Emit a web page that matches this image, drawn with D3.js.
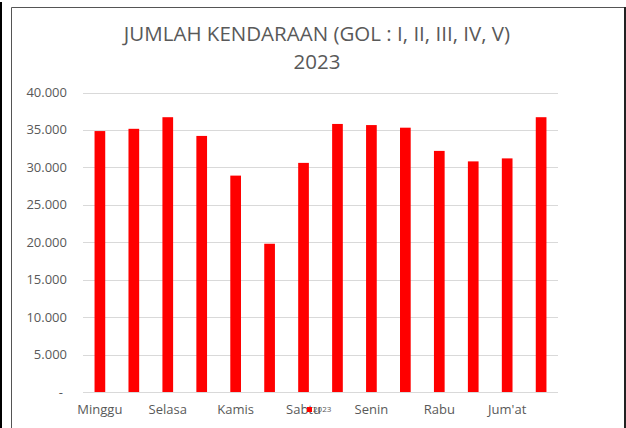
<!DOCTYPE html>
<html>
<head>
<meta charset="utf-8">
<script src="https://cdn.jsdelivr.net/npm/d3@7"></script>
<style>
  body { margin: 0; background: #fff; }
  svg { display: block; font-family: "Open Sans", sans-serif; }
</style>
</head>
<body>
<div class="canvas"></div>
<script>
// data
const days = ["Minggu", "Senin", "Selasa", "Rabu", "Kamis", "Jum'at", "Sabtu",
              "Minggu", "Senin", "Selasa", "Rabu", "Kamis", "Jum'at", "Sabtu"];
const values = [34850, 35150, 36700, 34200, 28900, 19800, 30600,
                35800, 35650, 35300, 32200, 30800, 31200, 36700];
const yTicks = [0, 5000, 10000, 15000, 20000, 25000, 30000, 35000, 40000];
const seriesName = "2023";

const width = 626, height = 428;
const svg = d3.select(".canvas").append("svg")
  .attr("width", width).attr("height", height);

// outer frame
svg.append("line").attr("x1", 1).attr("x2", 1).attr("y1", 2).attr("y2", height)
  .attr("stroke", "#000").attr("stroke-width", 2);
svg.append("path")
  .attr("d", `M11.5,${height} V7.5 H625`)
  .attr("fill", "none").attr("stroke", "#555").attr("stroke-width", 1);
svg.append("line").attr("x1", 625).attr("x2", 625).attr("y1", 7).attr("y2", height)
  .attr("stroke", "#222").attr("stroke-width", 2);

const plot = { left: 83, right: 558, top: 92.5, bottom: 392 };

const x = d3.scaleBand()
  .domain(d3.range(days.length))
  .range([plot.left, plot.right])
  .paddingInner(0.685)
  .paddingOuter(0.34);

const y = d3.scaleLinear().domain([0, 40000]).range([plot.bottom, plot.top]);

// gridlines
svg.append("g")
  .selectAll("line")
  .data(yTicks)
  .join("line")
  .attr("x1", plot.left).attr("x2", plot.right)
  .attr("y1", d => Math.round(y(d)) + 0.5).attr("y2", d => Math.round(y(d)) + 0.5)
  .attr("stroke", "#d9d9d9").attr("stroke-width", 1);

// y labels
const fmt = d => d === 0 ? "-" : d3.format(",")(d).replace(/,/g, ".");
svg.append("g")
  .selectAll("text")
  .data(yTicks)
  .join("text")
  .attr("x", d => d === 0 ? 63 : 67)
  .attr("y", d => y(d))
  .attr("dy", "0.35em")
  .attr("text-anchor", "end")
  .attr("font-size", 13)
  .attr("fill", "#595959")
  .text(fmt);

// bars
svg.append("g")
  .selectAll("rect")
  .data(values)
  .join("rect")
  .attr("x", (d, i) => x(i))
  .attr("width", x.bandwidth())
  .attr("y", d => y(d))
  .attr("height", d => y(0) - y(d))
  .attr("fill", "#ff0000");

// x labels, every other category
svg.append("g")
  .selectAll("text")
  .data(days.map((d, i) => ({ d, i })).filter(o => o.i % 2 === 0))
  .join("text")
  .attr("x", o => x(o.i) + x.bandwidth() / 2)
  .attr("y", 414)
  .attr("text-anchor", "middle")
  .attr("font-size", 13)
  .attr("fill", "#595959")
  .text(o => o.d);

// title
const title = svg.append("text")
  .attr("x", 317)
  .attr("text-anchor", "middle")
  .attr("font-size", 20.5)
  .attr("fill", "#595959");
title.append("tspan").attr("x", 317).attr("y", 41).text("JUMLAH KENDARAAN (GOL : I, II, III, IV, V)");
title.append("tspan").attr("x", 317).attr("y", 69).text(seriesName);

// legend
svg.append("rect").attr("x", 307).attr("y", 407).attr("width", 5).attr("height", 5).attr("fill", "#ff0000");
svg.append("text").attr("x", 313).attr("y", 412)
  .attr("font-size", 8).attr("fill", "#595959").text(seriesName);
</script>
</body>
</html>
